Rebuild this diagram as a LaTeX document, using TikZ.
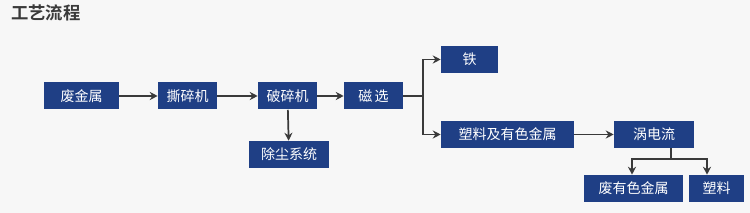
\documentclass[tikz,border=0pt]{standalone}
\usepackage{fontspec}
\newfontfamily\cjk{Noto Sans CJK SC}
\newfontfamily\cjkb{Noto Sans CJK SC Bold}
\usetikzlibrary{arrows.meta}
\definecolor{boxblue}{HTML}{1F3F85}
\definecolor{bgc}{HTML}{F7F7F7}
\definecolor{linec}{HTML}{3A3A3A}
\tikzset{
  stepbox/.style={fill=boxblue, text=white, inner sep=0pt, font=\cjk\fontsize{10.5}{12}\selectfont, minimum height=27*0.75pt},
  conn/.style={draw=linec, line width=1.3pt, -{Stealth[length=6pt,width=6pt]}},
  seg/.style={draw=linec, line width=1.3pt}
}
\begin{document}
\begin{tikzpicture}[x=0.75pt,y=-0.75pt]
\fill[bgc] (0,0) rectangle (750,213);
\useasboundingbox (0,0) rectangle (750,213);
\node[anchor=west, text=linec, inner sep=0pt, font=\cjkb\fontsize{13}{15}\selectfont] (title) at (11,13) {工艺流程};
\node[stepbox, minimum width=75*0.75pt] (a) at (81.5,96) {废金属};
\node[stepbox, minimum width=59*0.75pt] (b) at (187.5,96) {撕碎机};
\node[stepbox, minimum width=59*0.75pt] (c) at (287.5,96) {破碎机};
\node[stepbox, minimum width=59*0.75pt] (d) at (373.5,96) {磁\,选};
\node[stepbox, minimum width=80*0.75pt] (e) at (289,154.5) {除尘系统};
\node[stepbox, minimum width=57*0.75pt] (f) at (469.5,59.5) {铁};
\node[stepbox, minimum width=133*0.75pt] (g) at (507.5,134.5) {塑料及有色金属};
\node[stepbox, minimum width=80*0.75pt] (h) at (654,134.5) {涡电流};
\node[stepbox, minimum width=99*0.75pt] (i) at (633.5,188.5) {废有色金属};
\node[stepbox, minimum width=55*0.75pt] (j) at (716.5,188.5) {塑料};
\coordinate (s1) at (423,96);
\coordinate (s2) at (671,159);
\draw[conn] (a) -- (b);
\draw[conn] (b) -- (c);
\draw[conn] (c) -- (d);
\draw[conn] (c) -- (e);
\draw[seg] (d) -- (s1);
\draw[conn] (s1) |- (f);
\draw[conn] (s1) |- (g);
\draw[conn] (g) -- (h);
\draw[seg] (h.south -| s2) -- (s2);
\draw[conn] (s2) -| (i.north -| 632,0);
\draw[conn] (s2) -| (j.north -| 707,0);
\end{tikzpicture}
\end{document}
